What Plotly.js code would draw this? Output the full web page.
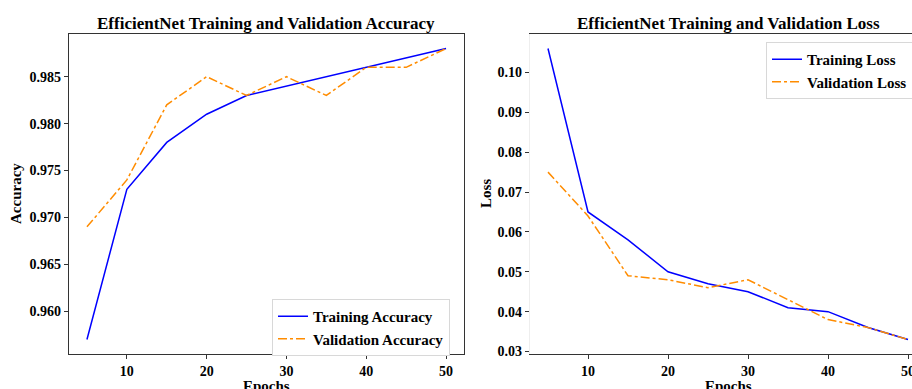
<!DOCTYPE html>
<html><head><meta charset="utf-8">
<script src="https://cdn.plot.ly/plotly-3.0.1.min.js"></script>
<style>html,body{margin:0;padding:0;overflow:hidden;background:#fff;width:912px;height:389px}</style>
</head><body><div id="chart" style="width:940px;height:389px"></div>
<script>
const epochs = [5, 10, 15, 20, 25, 30, 35, 40, 45, 50];
const trainAcc = [0.957, 0.973, 0.978, 0.981, 0.983, 0.984, 0.985, 0.986, 0.987, 0.988];
const valAcc   = [0.969, 0.974, 0.982, 0.985, 0.983, 0.985, 0.983, 0.986, 0.986, 0.988];
const trainLoss = [0.106, 0.065, 0.058, 0.050, 0.047, 0.045, 0.041, 0.040, 0.036, 0.033];
const valLoss   = [0.075, 0.064, 0.049, 0.048, 0.046, 0.048, 0.043, 0.038, 0.036, 0.033];
const accTicks = [0.960, 0.965, 0.970, 0.975, 0.980, 0.985];
const lossTicks = [0.03, 0.04, 0.05, 0.06, 0.07, 0.08, 0.09, 0.10];
const xTicks = [10, 20, 30, 40, 50];

const W = 940, H = 389;
const FF = "Liberation Serif, 'Times New Roman', serif";
const fx = p => p / W, fy = p => 1 - p / H;

const traces = [
  {x: epochs, y: trainAcc, name: 'Training Accuracy', mode: 'lines', line: {color: '#0000ff', width: 1.5}, xaxis: 'x', yaxis: 'y', legend: 'legend'},
  {x: epochs, y: valAcc, name: 'Validation Accuracy', mode: 'lines', line: {color: '#ff8c00', width: 1.5, dash: 'dashdot'}, xaxis: 'x', yaxis: 'y', legend: 'legend'},
  {x: epochs, y: trainLoss, name: 'Training Loss', mode: 'lines', line: {color: '#0000ff', width: 1.5}, xaxis: 'x2', yaxis: 'y2', legend: 'legend2'},
  {x: epochs, y: valLoss, name: 'Validation Loss', mode: 'lines', line: {color: '#ff8c00', width: 1.5, dash: 'dashdot'}, xaxis: 'x2', yaxis: 'y2', legend: 'legend2'}
];

const tickfont = {family: FF, size: 14, color: '#000', weight: 'bold'};
const common = {showgrid: false, zeroline: false, ticks: 'outside', ticklen: 4, tickwidth: 1, tickcolor: '#333', showline: true, linewidth: 1.2, tickfont: tickfont, fixedrange: true};

const layout = {
  width: W, height: H,
  margin: {l: 0, r: 0, t: 0, b: 0},
  paper_bgcolor: '#fff', plot_bgcolor: '#fff',
  font: {family: FF, color: '#000'},
  xaxis: Object.assign({}, common, {domain: [fx(69), fx(464)], range: [2.75, 52.25], tickvals: xTicks, linecolor: '#333', mirror: true, anchor: 'y'}),
  yaxis: Object.assign({}, common, {domain: [fy(354), fy(34)], range: [0.95545, 0.98955], tickvals: accTicks, tickformat: '.3f', linecolor: '#333', mirror: true, anchor: 'x'}),
  xaxis2: Object.assign({}, common, {domain: [fx(530), fx(926)], range: [2.75, 52.25], tickvals: xTicks, linecolor: '#333', mirror: true, anchor: 'y2'}),
  yaxis2: Object.assign({}, common, {domain: [fy(354), fy(34)], range: [0.02937, 0.10965], tickvals: lossTicks, tickformat: '.2f', linecolor: '#eeeeee', mirror: true, anchor: 'x2'}),
  legend: {x: fx(272), y: fy(299), xanchor: 'left', yanchor: 'top', bgcolor: '#fff', bordercolor: '#d8d8d8', borderwidth: 1,
           font: {family: FF, size: 15, color: '#000', weight: 'bold'}, tracegroupgap: 0},
  legend2: {x: fx(766), y: fy(42), xanchor: 'left', yanchor: 'top', bgcolor: '#fff', bordercolor: '#d8d8d8', borderwidth: 1,
           font: {family: FF, size: 15, color: '#000', weight: 'bold'}, tracegroupgap: 0},
  showlegend: true,
  annotations: [
    {text: 'EfficientNet Training and Validation Accuracy', x: fx(266), y: fy(23), xref: 'paper', yref: 'paper', showarrow: false, xanchor: 'center', yanchor: 'middle', font: {family: FF, size: 17, color: '#000', weight: 'bold'}},
    {text: 'EfficientNet Training and Validation Loss', x: fx(728), y: fy(23), xref: 'paper', yref: 'paper', showarrow: false, xanchor: 'center', yanchor: 'middle', font: {family: FF, size: 17, color: '#000', weight: 'bold'}},
    {text: 'Epochs', x: fx(266), y: fy(376), xref: 'paper', yref: 'paper', showarrow: false, xanchor: 'center', yanchor: 'top', font: {family: FF, size: 15, color: '#000', weight: 'bold'}},
    {text: 'Epochs', x: fx(728), y: fy(376), xref: 'paper', yref: 'paper', showarrow: false, xanchor: 'center', yanchor: 'top', font: {family: FF, size: 15, color: '#000', weight: 'bold'}},
    {text: 'Accuracy', x: fx(16), y: fy(194), xref: 'paper', yref: 'paper', showarrow: false, xanchor: 'center', yanchor: 'middle', textangle: -90, font: {family: FF, size: 15, color: '#000', weight: 'bold'}},
    {text: 'Loss', x: fx(486), y: fy(194), xref: 'paper', yref: 'paper', showarrow: false, xanchor: 'center', yanchor: 'middle', textangle: -90, font: {family: FF, size: 15, color: '#000', weight: 'bold'}}
  ]
};

Plotly.newPlot('chart', traces, layout, {displayModeBar: false, staticPlot: true});
</script>
</body></html>
